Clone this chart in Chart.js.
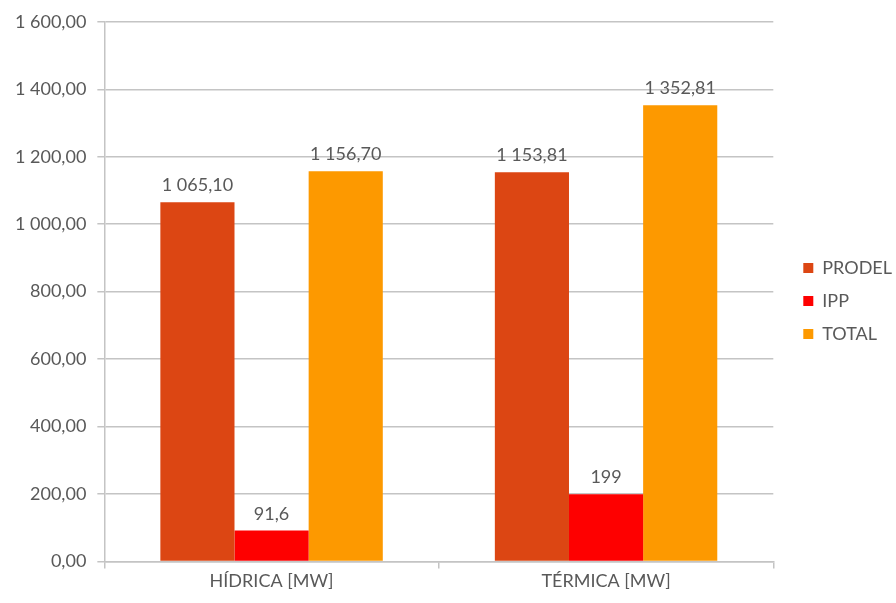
<!DOCTYPE html>
<html>
<head>
<meta charset="utf-8">
<script src="https://cdn.jsdelivr.net/npm/chart.js@4"></script>
<style>
  html, body { margin: 0; padding: 0; background: #fff; }
  #wrap { width: 896px; height: 603px; }
</style>
</head>
<body>
<div id="wrap"><canvas id="chart"></canvas></div>
<script>
const categories = ['HÍDRICA [MW]', 'TÉRMICA [MW]'];
const prodel = [1065.10, 1153.81];
const ipp = [91.6, 199];
const total = [1156.70, 1352.81];
const yTicks = [0, 200, 400, 600, 800, 1000, 1200, 1400, 1600];

const textColor = '#595959';
const gridColor = '#c4c4c4';
const fontFamily = 'Lato, "Open Sans", sans-serif';
const fontSize = 18;

// es-style number: space as thousands separator, comma for decimals
function fmt(v, decimals) {
    const fixed = decimals == null ? String(v) : v.toFixed(decimals);
    const parts = fixed.split('.');
    const int = parts[0].replace(/\B(?=(\d{3})+(?!\d))/g, ' ');
    return parts.length > 1 ? int + ',' + parts[1] : int;
}

// value labels on top of each bar
const barLabels = {
    id: 'barLabels',
    afterDatasetsDraw(chart) {
        const ctx = chart.ctx;
        ctx.save();
        ctx.fillStyle = textColor;
        ctx.font = fontSize + 'px ' + fontFamily;
        ctx.textAlign = 'center';
        ctx.textBaseline = 'alphabetic';
        chart.data.datasets.forEach((ds, i) => {
            chart.getDatasetMeta(i).data.forEach((bar, j) => {
                ctx.fillText(fmt(ds.data[j], ds.decimals), bar.x, bar.y - 11);
            });
        });
        ctx.restore();
    }
};

// leave a wider gap between the plot and the legend column
const legendGap = {
    id: 'legendGap',
    afterInit(chart) {
        const fit = chart.legend.fit;
        chart.legend.fit = function () {
            fit.call(this);
            this.width += 8;
        };
    },
    afterLayout(chart) {
        chart.legend.left += 15;
    }
};

new Chart(document.getElementById('chart'), {
    type: 'bar',
    data: {
        labels: categories,
        datasets: [
            { label: 'PRODEL', data: prodel, decimals: 2, backgroundColor: '#dc4613' },
            { label: 'IPP', data: ipp, decimals: null, backgroundColor: '#fe0000' },
            { label: 'TOTAL', data: total, decimals: 2, backgroundColor: '#fd9900' }
        ]
    },
    options: {
        responsive: true,
        maintainAspectRatio: false,
        animation: false,
        layout: { padding: { left: 4, right: 1, top: 8, bottom: 9 } },
        datasets: {
            bar: { categoryPercentage: 0.665, barPercentage: 1 }
        },
        plugins: {
            legend: {
                position: 'right',
                labels: {
                    boxWidth: 10,
                    boxHeight: 10,
                    padding: 15,
                    color: textColor,
                    font: { family: fontFamily, size: fontSize }
                }
            },
            tooltip: { enabled: false }
        },
        scales: {
            x: {
                grid: {
                    display: true,
                    drawOnChartArea: false,
                    offset: true,
                    tickLength: 7,
                    color: gridColor,
                    lineWidth: 1.5
                },
                border: { color: gridColor, width: 1.5 },
                ticks: {
                    color: textColor,
                    padding: 2,
                    font: { family: fontFamily, size: fontSize }
                }
            },
            y: {
                min: 0,
                max: 1600,
                afterBuildTicks(axis) {
                    axis.ticks = yTicks.map(v => ({ value: v }));
                },
                grid: {
                    color: gridColor,
                    lineWidth: 1.5,
                    tickLength: 7
                },
                border: { color: gridColor, width: 1.5 },
                ticks: {
                    color: textColor,
                    padding: 11,
                    font: { family: fontFamily, size: fontSize },
                    callback: v => fmt(v, 2)
                }
            }
        }
    },
    plugins: [barLabels, legendGap]
});
</script>
</body>
</html>
